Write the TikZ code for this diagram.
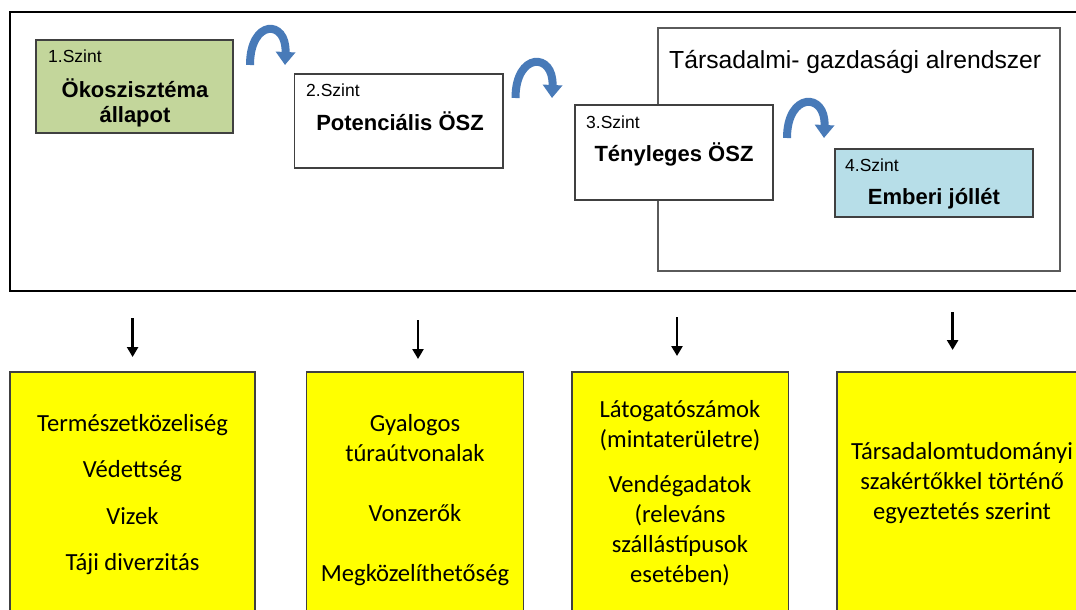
\documentclass[tikz,border=0pt]{standalone}
\usepackage{fontspec}
\newfontfamily\arialf{Liberation Sans}
\newfontfamily\calf{Carlito}
\usetikzlibrary{arrows.meta,calc}
\definecolor{greenbox}{RGB}{195,214,155}
\definecolor{bluebox}{RGB}{183,222,232}
\definecolor{arcblue}{RGB}{72,122,184}
\definecolor{boxline}{RGB}{64,64,64}
\definecolor{grayline}{RGB}{90,90,90}
\definecolor{yellowbox}{RGB}{255,255,0}
\tikzset{
  lvlbox/.style={draw=boxline, line width=1.3pt, inner sep=0pt, fill=white},
  ybox/.style={draw=boxline, line width=1.2pt, inner sep=0pt, fill=yellowbox},
  szint/.style={font=\arialf\fontsize{17.5}{20}\selectfont, anchor=base west, inner sep=0pt},
  lvltext/.style={font=\arialf\bfseries\fontsize{22}{25}\selectfont, anchor=base, inner sep=0pt},
  ytext/.style={font=\calf\fontsize{24.6}{29}\selectfont, anchor=base, inner sep=0pt},
  curvarr/.style={draw=arcblue, line width=8pt, -{Triangle[width=19pt,length=13pt]}},
  downarr/.style={draw=black, line width=2.6pt, -{Triangle[width=11pt,length=10pt]}}
}
\begin{document}
\begin{tikzpicture}[x=1pt,y=-1pt]
\useasboundingbox (0,0) rectangle (1076,610);
\clip (0,0) rectangle (1076,610);
% outer frame
\node[draw=black, line width=2.5pt, minimum width=1080pt, minimum height=279pt, inner sep=0pt] (outer) at (550,151.5) {};
% social-economic subsystem
\node[draw=grayline, line width=2pt, minimum width=401.5pt, minimum height=243pt, inner sep=0pt] (social) at (858.75,149.5) {};
\node[font=\arialf\fontsize{24.7}{28}\selectfont, anchor=base west, inner sep=0pt] (socialt) at (669,68) {Társadalmi- gazdasági alrendszer};
% level boxes
\node[lvlbox, fill=greenbox, minimum width=197pt, minimum height=93pt] (b1) at (134.5,86.5) {};
\node[lvlbox, minimum width=208.5pt, minimum height=94pt] (b2) at (398.75,121) {};
\node[lvlbox, minimum width=198pt, minimum height=95pt] (b3) at (674,152.5) {};
\node[lvlbox, fill=bluebox, minimum width=198pt, minimum height=68pt] (b4) at (934,183) {};
\node[szint] (b1s) at (48,63) {1.Szint};
\node[lvltext] (b1t1) at (135,97) {Ökoszisztéma};
\node[lvltext] (b1t2) at (135,122) {állapot};
\node[szint] (b2s) at (306,96.5) {2.Szint};
\node[lvltext] (b2t) at (400,130) {Potenciális ÖSZ};
\node[szint] (b3s) at (586,128) {3.Szint};
\node[lvltext] (b3t) at (674,161.5) {Tényleges ÖSZ};
\node[szint] (b4s) at (845,171) {4.Szint};
\node[lvltext] (b4t) at (934,204) {Emberi jóllét};
% curved arrows
\coordinate (c1a) at (250,65);  \coordinate (c1b) at (285,65);
\coordinate (c2a) at (515.5,98); \coordinate (c2b) at (552,98);
\coordinate (c3a) at (787,138); \coordinate (c3b) at (824,138);
\draw[curvarr] (c1a) .. controls ($(c1a)+(0,-46)$) and ($(c1b)+(2,-46)$) .. (c1b);
\draw[curvarr] (c2a) .. controls ($(c2a)+(0,-46)$) and ($(c2b)+(2,-46)$) .. (c2b);
\draw[curvarr] (c3a) .. controls ($(c3a)+(0,-46)$) and ($(c3b)+(2,-46)$) .. (c3b);
% yellow boxes
\node[ybox, minimum width=245pt, minimum height=268pt] (y1) at (132.5,506) {};
\node[ybox, minimum width=217pt, minimum height=268pt] (y2) at (415,506) {};
\node[ybox, minimum width=216.5pt, minimum height=268pt] (y3) at (680.25,506) {};
\node[ybox, minimum width=253pt, minimum height=268pt] (y4) at (963.5,506) {};
% down arrows
\coordinate (d1a) at (132.6,318); \coordinate (d1b) at (132.6,357);
\coordinate (d2a) at (418,320);   \coordinate (d2b) at (418,359);
\coordinate (d3a) at (677,317);   \coordinate (d3b) at (677,356);
\coordinate (d4a) at (952.6,312); \coordinate (d4b) at (952.6,350);
\draw[downarr] (d1a) -- (d1b);
\draw[downarr] (d2a) -- (d2b);
\draw[downarr] (d3a) -- (d3b);
\draw[downarr] (d4a) -- (d4b);
% yellow texts
\node[ytext] (t11) at (132.5,431) {Természetközeliség};
\node[ytext] (t12) at (132.5,477) {Védettség};
\node[ytext] (t13) at (132.5,524) {Vizek};
\node[ytext] (t14) at (132.5,570.5) {Táji diverzitás};
\node[ytext] (t21) at (415,431) {Gyalogos};
\node[ytext] (t22) at (415,461) {túraútvonalak};
\node[ytext] (t23) at (415,521) {Vonzerők};
\node[ytext] (t24) at (415,581) {Megközelíthetőség};
\node[ytext] (t31) at (680,417) {Látogatószámok};
\node[ytext] (t32) at (680,447) {(mintaterületre)};
\node[ytext] (t33) at (680,492) {Vendégadatok};
\node[ytext] (t34) at (680,522) {(releváns};
\node[ytext] (t35) at (680,552) {szállástípusok};
\node[ytext] (t36) at (680,582) {esetében)};
\node[ytext] (t41) at (962,459) {Társadalomtudományi};
\node[ytext] (t42) at (962,489) {szakértőkkel történő};
\node[ytext] (t43) at (962,519) {egyeztetés szerint};
\end{tikzpicture}
\end{document}
